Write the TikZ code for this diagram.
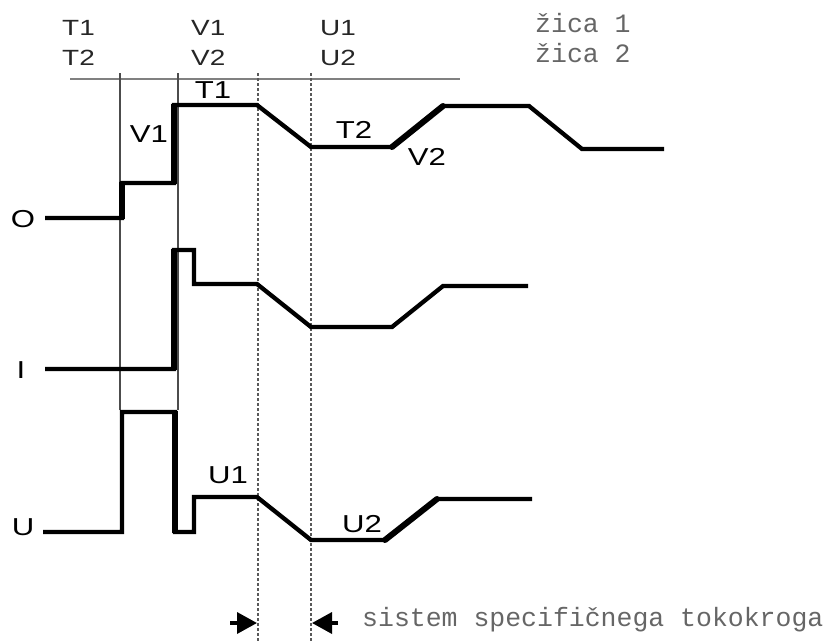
\documentclass[tikz,border=0pt]{standalone}
\usepackage{graphicx}
\usepackage{fontspec}
\setmainfont{Liberation Sans}
\newfontfamily\monofont{Liberation Mono}
\usetikzlibrary{arrows.meta}
\newcommand{\wide}[1]{\scalebox{1.27}[1]{#1}}
\begin{document}
\begin{tikzpicture}[x=1pt,y=-1pt,
  trace/.style={line width=4.3pt, line join=miter, line cap=butt},
  heavy/.style={line width=6pt, line cap=rect},
  heavydiag/.style={line width=6pt, line cap=round},
  guide/.style={line width=1.3pt, draw=black!70},
  dotline/.style={line width=2.3pt, draw=black!65, dash pattern=on 3pt off 2pt},
  hdr/.style={font=\fontsize{22}{22}\selectfont, text=black!85, anchor=base west, inner sep=0pt},
  lbl/.style={font=\fontsize{24.5}{24.5}\selectfont, anchor=base, inner sep=0pt},
  mono/.style={font=\monofont\fontsize{26.5}{26.5}\selectfont, text=black!60, anchor=base west, inner sep=0pt},
  arr/.style={-{Triangle[length=20pt,width=21pt]}, line width=3.5pt}]
\useasboundingbox (0,0) rectangle (828,641);

% header texts
\node[hdr] (t1) at (62,35) {\wide{T1}};
\node[hdr] (t2) at (62,65) {\wide{T2}};
\node[hdr] (v1) at (191,35) {\wide{V1}};
\node[hdr] (v2) at (191,65) {\wide{V2}};
\node[hdr] (u1) at (320,35) {\wide{U1}};
\node[hdr] (u2) at (320,65) {\wide{U2}};
\node[mono] (z1) at (535,32) {žica 1};
\node[mono] (z2) at (535,62) {žica 2};

% header rule and guides
\draw[line width=2pt, black!50] (70,79) -- (460,79);
\draw[guide] (120,73) -- (120,410);
\draw[guide] (178,73) -- (178,410);
\draw[dotline] (258,73) -- (258,641);
\draw[dotline] (311,73) -- (311,641);

% O trace
\draw[trace] (45,218) -- (122,218) -- (122,183) -- (174,183) -- (174,105) -- (257,105)
  -- (311,147) -- (392,147) -- (443,106) -- (529,106) -- (582,149) -- (664,149);
\draw[heavy] (122,216) -- (122,185);
\draw[heavy] (174,181) -- (174,107);
\draw[heavydiag] (392,147) -- (443,106);

% I trace
\draw[trace] (45,369) -- (174,369) -- (174,250) -- (194,250) -- (194,284) -- (257,284)
  -- (311,327) -- (392,327) -- (443,286) -- (528,286);
\draw[heavy] (174,367) -- (174,252);

% U trace
\draw[trace] (43,532) -- (122,532) -- (122,412) -- (175,412) -- (175,532) -- (194,532)
  -- (194,497) -- (257,497) -- (311,540) -- (385,540) -- (437,499) -- (532,499);
\draw[heavy] (175,414) -- (175,530);
\draw[heavydiag] (385,540) -- (437,499);

% plot labels
\node[lbl] (lo) at (23,227) {\wide{O}};
\node[lbl] (li) at (21,378) {\wide{I}};
\node[lbl] (lu) at (23,535) {\wide{U}};
\node[lbl] (lt1) at (213,98) {\wide{T1}};
\node[lbl] (lv1) at (149,142) {\wide{V1}};
\node[lbl] (lt2) at (354,138) {\wide{T2}};
\node[lbl] (lv2) at (427,165) {\wide{V2}};
\node[lbl] (lu1) at (228,483) {\wide{U1}};
\node[lbl] (lu2) at (362,532) {\wide{U2}};

% bottom arrows and caption
\coordinate (a1) at (230,623);
\coordinate (a1t) at (257,623);
\coordinate (a2) at (338,623);
\coordinate (a2t) at (312,623);
\draw[arr] (a1) -- (a1t);
\draw[arr] (a2) -- (a2t);
\node[mono] (cap) at (362,626) {sistem specifičnega tokokroga};
\end{tikzpicture}
\end{document}
